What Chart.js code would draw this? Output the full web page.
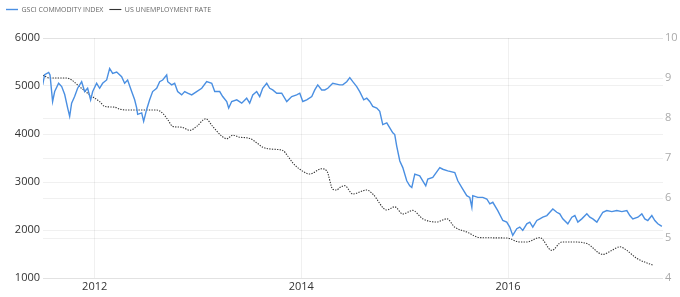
<!DOCTYPE html>
<html>
<head>
<meta charset="utf-8">
<script src="https://cdn.jsdelivr.net/npm/chart.js@4/dist/chart.umd.min.js"></script>
<style>
  html, body { margin: 0; padding: 0; background: #fff; }
  #wrap { width: 680px; height: 297px; position: relative; }
</style>
</head>
<body>
<div id="wrap"><canvas id="c"></canvas></div>
<script>
// ---- Data (decimal years) ----
const seriesNames = ["GSCI COMMODITY INDEX", "US UNEMPLOYMENT RATE"];

const gsciDates = [
  2011.497, 2011.516, 2011.555, 2011.568, 2011.593, 2011.613, 2011.651, 2011.681, 2011.710, 2011.739,
  2011.758, 2011.777, 2011.806, 2011.835, 2011.874, 2011.903, 2011.932, 2011.961, 2011.981, 2012.019,
  2012.048, 2012.077, 2012.116, 2012.145, 2012.174, 2012.213, 2012.261, 2012.290, 2012.319, 2012.358,
  2012.387, 2012.407, 2012.416, 2012.455, 2012.474, 2012.503, 2012.532, 2012.561, 2012.600, 2012.629,
  2012.658, 2012.697, 2012.707, 2012.745, 2012.774, 2012.803, 2012.842, 2012.871, 2012.900, 2012.939,
  2012.987, 2013.036, 2013.084, 2013.133, 2013.162, 2013.210, 2013.239, 2013.278, 2013.297, 2013.326,
  2013.375, 2013.423, 2013.471, 2013.500, 2013.530, 2013.568, 2013.597, 2013.626, 2013.665, 2013.694,
  2013.723, 2013.762, 2013.810, 2013.859, 2013.907, 2013.955, 2013.985, 2014.014, 2014.052, 2014.101,
  2014.130, 2014.159, 2014.197, 2014.227, 2014.256, 2014.304, 2014.372, 2014.401, 2014.439, 2014.469,
  2014.498, 2014.536, 2014.565, 2014.604, 2014.633, 2014.662, 2014.691, 2014.730, 2014.759, 2014.788,
  2014.827, 2014.856, 2014.885, 2014.904, 2014.923, 2014.953, 2014.982, 2015.020, 2015.049, 2015.069,
  2015.098, 2015.146, 2015.175, 2015.204, 2015.224, 2015.272, 2015.340, 2015.369, 2015.417, 2015.485,
  2015.514, 2015.562, 2015.601, 2015.630, 2015.650, 2015.659, 2015.708, 2015.756, 2015.795, 2015.824,
  2015.853, 2015.901, 2015.950, 2015.988, 2016.017, 2016.046, 2016.085,
  2016.114, 2016.143, 2016.182, 2016.211, 2016.240, 2016.279, 2016.308, 2016.337, 2016.376, 2016.405,
  2016.434, 2016.472, 2016.501, 2016.530, 2016.579, 2016.618, 2016.647, 2016.676, 2016.714, 2016.763,
  2016.792, 2016.821, 2016.860, 2016.889, 2016.918, 2016.956, 2017.005, 2017.053, 2017.102, 2017.150,
  2017.179, 2017.208, 2017.257, 2017.295, 2017.324, 2017.353, 2017.392, 2017.421, 2017.450, 2017.489
];
const gsciValues = [
  5023, 5236, 5283, 5230, 4677, 4884, 5056, 4987, 4822, 4540,
  4368, 4643, 4781, 4953, 5090, 4884, 4953, 4712, 4884, 5056,
  4953, 5056, 5126, 5366, 5263, 5290, 5194, 5056, 5125, 4884,
  4712, 4540, 4409, 4440, 4264, 4512, 4712, 4884, 4953, 5090,
  5125, 5230, 5090, 5023, 5056, 4884, 4815, 4884, 4850, 4815,
  4884, 4953, 5090, 5056, 4884, 4884, 4781, 4677, 4540, 4677,
  4712, 4643, 4746, 4643, 4815, 4884, 4781, 4953, 5056, 4953,
  4918, 4850, 4850, 4677, 4781, 4815, 4850, 4677, 4712, 4781,
  4918, 5023, 4918, 4918, 4953, 5056, 5023, 5023, 5090, 5174,
  5090, 4988, 4884, 4712, 4746, 4677, 4574, 4540, 4471, 4196,
  4230, 4126, 4023, 3988, 3748, 3438, 3300, 3025, 2921, 2886,
  3163, 3128, 3025, 2921, 3060, 3094, 3300, 3266, 3232, 3196,
  3025, 2853, 2715, 2680, 2473, 2715, 2680, 2680, 2646, 2543,
  2577, 2405, 2198, 2164, 2060, 1888, 2026,
  2060, 1992, 2129, 2164, 2060, 2198, 2232, 2267, 2301, 2370,
  2439, 2370, 2336, 2232, 2129, 2267, 2301, 2164, 2232, 2336,
  2267, 2232, 2164, 2267, 2370, 2405, 2384, 2405, 2384, 2405,
  2301, 2232, 2267, 2336, 2232, 2198, 2301, 2198, 2129, 2074
];

const unempDates = [
  2011.497, 2011.564, 2011.729, 2011.777, 2011.855, 2011.952, 2012.048, 2012.097, 2012.194, 2012.242,
  2012.339, 2012.600, 2012.658, 2012.707, 2012.755, 2012.842, 2012.920, 2012.987, 2013.075, 2013.142,
  2013.229, 2013.278, 2013.336, 2013.404, 2013.500, 2013.568, 2013.626, 2013.723, 2013.820, 2013.868,
  2013.917, 2013.985, 2014.081, 2014.197, 2014.246, 2014.304, 2014.343, 2014.372, 2014.420, 2014.498,
  2014.633, 2014.691, 2014.827, 2014.904, 2014.982, 2015.078, 2015.175, 2015.311, 2015.408, 2015.485,
  2015.601, 2015.727, 2015.988, 2016.114, 2016.182, 2016.308, 2016.424, 2016.521, 2016.627, 2016.763,
  2016.918, 2017.005, 2017.082, 2017.150, 2017.247, 2017.402
];
const unempValues = [
  9.07, 9.0, 9.0, 8.95, 8.78, 8.58, 8.41, 8.29, 8.27, 8.22,
  8.2, 8.2, 8.12, 7.96, 7.79, 7.77, 7.69, 7.79, 7.98, 7.79,
  7.55, 7.48, 7.57, 7.52, 7.49, 7.38, 7.27, 7.22, 7.19, 7.05,
  6.88, 6.72, 6.6, 6.73, 6.68, 6.22, 6.2, 6.26, 6.31, 6.1,
  6.2, 6.1, 5.7, 5.78, 5.6, 5.69, 5.48, 5.4, 5.48, 5.27,
  5.15, 5.01, 5.0, 4.9, 4.9, 5.01, 4.69, 4.9, 4.9, 4.86,
  4.59, 4.69, 4.78, 4.69, 4.49, 4.32
];

const xTickYears = [2012, 2014, 2016];
const leftTicks = [1000, 2000, 3000, 4000, 5000, 6000];
const rightTicks = [4, 5, 6, 7, 8, 9, 10];

// ---- Build ----
const gsciPoints = gsciDates.map((d, i) => ({ x: d, y: gsciValues[i] }));
const unempPoints = unempDates.map((d, i) => ({ x: d, y: unempValues[i] }));

const gridColor = 'rgba(0,0,0,0.06)';

// adds empty space below the legend
const legendSpacer = {
  id: 'legendSpacer',
  beforeLayout(chart) {
    const lg = chart.legend;
    if (lg && !lg._spacerWrapped) {
      const orig = lg.fit;
      lg.fit = function () { orig.call(this); this.height += 15; };
      lg._spacerWrapped = true;
    }
  }
};

new Chart(document.getElementById('c'), {
  type: 'line',
  data: {
    datasets: [
      {
        label: seriesNames[0],
        data: gsciPoints,
        yAxisID: 'y',
        borderColor: '#4a8fe2',
        backgroundColor: '#4a8fe2',
        borderWidth: 1.4,
        pointRadius: 0,
        tension: 0,
        fill: false
      },
      {
        label: seriesNames[1],
        data: unempPoints,
        yAxisID: 'y1',
        borderColor: '#333333',
        backgroundColor: '#333333',
        borderWidth: 1.1,
        borderDash: [1.3, 1.3],
        pointRadius: 0,
        cubicInterpolationMode: 'monotone',
        fill: false
      }
    ]
  },
  plugins: [legendSpacer],
  options: {
    responsive: true,
    maintainAspectRatio: false,
    animation: false,
    layout: { padding: { left: 0, right: 0, top: 0, bottom: 0 } },
    plugins: {
      tooltip: { enabled: false },
      legend: {
        display: true,
        position: 'top',
        align: 'start',
        labels: {
          usePointStyle: true,
          pointStyle: 'line',
          pointStyleWidth: 12,
          boxWidth: 10,
          boxHeight: 6,
          padding: 6,
          color: '#666',
          font: { family: 'Open Sans', size: 7 }
        }
      }
    },
    scales: {
      x: {
        type: 'linear',
        min: 2011.5,
        max: 2017.5,
        afterBuildTicks: (s) => { s.ticks = xTickYears.map(v => ({ value: v })); },
        afterFit: (s) => { s.height = 19; },
        ticks: {
          callback: (v) => String(v),
          color: '#333',
          font: { family: 'Open Sans', size: 11 },
          padding: 2,
          maxRotation: 0
        },
        grid: { color: gridColor, drawTicks: false },
        border: { display: false }
      },
      y: {
        position: 'left',
        min: 1000,
        max: 6000,
        afterBuildTicks: (s) => { s.ticks = leftTicks.map(v => ({ value: v })); },
        afterFit: (s) => { s.width = 43; },
        ticks: {
          callback: (v) => String(v),
          color: '#333',
          font: { family: 'Open Sans', size: 11 },
          padding: 3
        },
        grid: { color: gridColor, drawTicks: false },
        border: { display: false }
      },
      y1: {
        position: 'right',
        min: 4,
        max: 10,
        afterBuildTicks: (s) => { s.ticks = rightTicks.map(v => ({ value: v })); },
        afterFit: (s) => { s.width = 17; },
        ticks: {
          callback: (v) => String(v),
          color: '#aaa',
          font: { family: 'Open Sans', size: 11 },
          padding: 2
        },
        grid: { color: gridColor, drawTicks: false },
        border: { display: false }
      }
    }
  }
});
</script>
</body>
</html>
